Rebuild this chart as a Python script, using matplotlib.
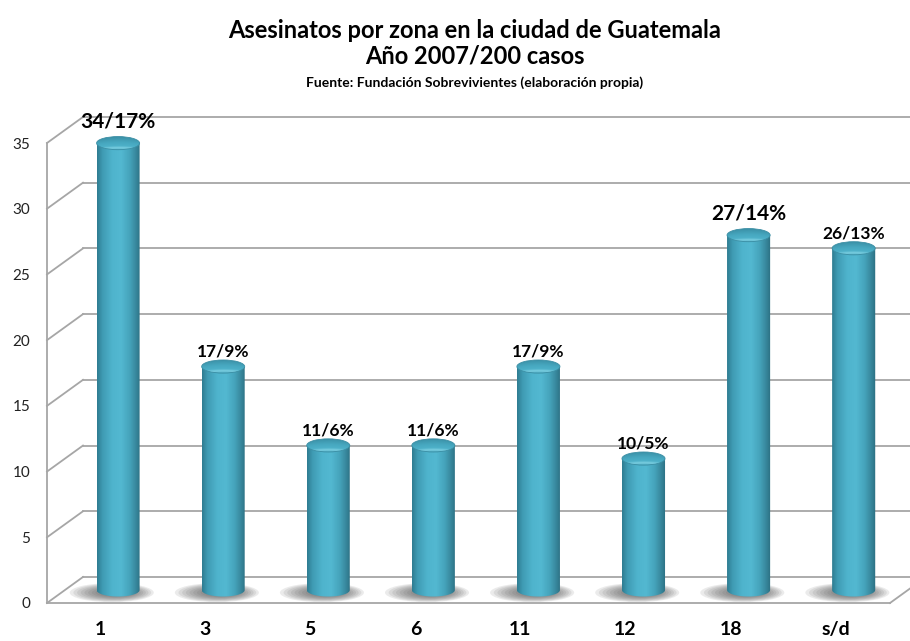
import numpy as np
import matplotlib.pyplot as plt
from matplotlib.patches import Polygon, Ellipse
from matplotlib.colors import LinearSegmentedColormap

plt.rcParams['font.family'] = ['Lato', 'DejaVu Sans']

# data
zonas = ['1', '3', '5', '6', '11', '12', '18', 's/d']
casos = [34, 17, 11, 11, 17, 10, 27, 26]
etiquetas = ['34/17%', '17/9%', '11/6%', '11/6%', '17/9%', '10/5%', '27/14%', '26/13%']
grandes = [True, False, False, False, False, False, True, False]

# fake 3d depth (in data units)
ddx = 0.3425
ddy = 1.98
x0, x1 = -0.505, 7.517
ymax = 38
bw = 0.41     # cylinder width
eh = 1.0      # ellipse height
grid_c = '#a6a6a6'

px_unit = 460 / 35
fig = plt.figure(figsize=(9.1, 6.41), dpi=100)
ax = fig.add_axes([47/910, 38/641, (890-47)/910, ymax * px_unit / 641])

# walls and floor
for v in range(0, 36, 5):
    ax.plot([x0 + ddx, x1 + ddx], [v + ddy, v + ddy], color=grid_c, lw=1.3, clip_on=False, zorder=1)
    ax.plot([x0, x0 + ddx], [v, v + ddy], color=grid_c, lw=1.3, clip_on=False, zorder=1)
ax.plot([x1, x1 + ddx], [0, ddy], color=grid_c, lw=1.3, clip_on=False, zorder=1)

body_cmap = LinearSegmentedColormap.from_list('body', [
    (0.0, '#2f7d92'), (0.12, '#3f9bb3'), (0.35, '#4fb4cd'), (0.55, '#53b8d1'),
    (0.75, '#45a3bb'), (0.9, '#37869b'), (1.0, '#2b6f82')])
top_cmap = LinearSegmentedColormap.from_list('top', [
    (0.0, '#3a8ea4'), (0.45, '#47a8c0'), (0.7, '#4db0c8'), (0.85, '#7ccfe1'), (1.0, '#4aa9c1')])

yy, xx = np.mgrid[-1:1:80j, -1:1:80j]
# 0 at the back rim, 1 at the front rim
top_grad = np.clip(1 - (yy + 1) / 2 - 0.15 * xx ** 2, 0, 1)

for i, v in enumerate(casos):
    cx = i + ddx / 2
    yb = ddy / 2
    yt = v + ddy / 2
    xl, xr = cx - bw / 2, cx + bw / 2

    # shadow on the floor, a bit to the left
    for k in range(10):
        s = 1 - k * 0.075
        ax.add_patch(Ellipse((cx - 0.06 + k * 0.005, yb - 0.2), 0.8 * s, 1.45 * s,
                             facecolor='#444444', edgecolor='none', alpha=0.1, zorder=2))

    # body
    t = np.linspace(np.pi, 2 * np.pi, 40)
    pts = list(zip(cx + bw / 2 * np.cos(t), yb + eh / 2 * np.sin(t)))
    pts += [(xr, yt), (xl, yt)]
    body = Polygon(pts, closed=True, facecolor='none', edgecolor='none', transform=ax.transData)
    ax.add_patch(body)
    im = ax.imshow(np.linspace(0, 1, 100).reshape(1, -1), cmap=body_cmap, aspect='auto',
                   extent=(xl, xr, yb - eh / 2, yt), zorder=3, interpolation='bilinear')
    im.set_clip_path(body)

    # top
    top = Ellipse((cx, yt), bw, eh, facecolor='none', edgecolor='#3b8ea4', lw=0.6, zorder=5)
    ax.add_patch(top)
    im2 = ax.imshow(top_grad, cmap=top_cmap, aspect='auto', origin='lower',
                    extent=(xl, xr, yt - eh / 2, yt + eh / 2), zorder=4, interpolation='bilinear')
    im2.set_clip_path(top)

    ax.annotate(etiquetas[i], (cx, yt + eh / 2), xytext=(0, 3.5 if grandes[i] else 0.5),
                textcoords='offset points', ha='center', va='bottom', fontweight='bold',
                fontsize=15 if grandes[i] else 12.5, color='black', zorder=6,
                annotation_clip=False)

ax.set_xlim(x0, x1)
ax.set_ylim(0, ymax)
ax.set_yticks(range(0, 36, 5))
ax.set_xticks(range(len(zonas)))
ax.set_xticklabels(zonas, fontweight='bold', fontsize=14)
ax.tick_params(axis='x', length=0, pad=13)
ax.tick_params(axis='y', length=0, pad=12, labelsize=11, labelcolor='#222222')
for sp in ['top', 'right']:
    ax.spines[sp].set_visible(False)
for sp in ['left', 'bottom']:
    ax.spines[sp].set_color(grid_c)
    ax.spines[sp].set_linewidth(1.3)
ax.spines['left'].set_bounds(0, 35)
ax.patch.set_alpha(0)

fig.text(0.522, 0.953, 'Asesinatos por zona en la ciudad de Guatemala', ha='center', va='center',
         fontsize=17, fontweight='bold')
fig.text(0.522, 0.912, 'Año 2007/200 casos', ha='center', va='center', fontsize=17, fontweight='bold')
fig.text(0.522, 0.871, 'Fuente: Fundación Sobrevivientes (elaboración propia)', ha='center', va='center',
         fontsize=10, fontweight='bold')

fig.savefig('out.png', dpi=100)
